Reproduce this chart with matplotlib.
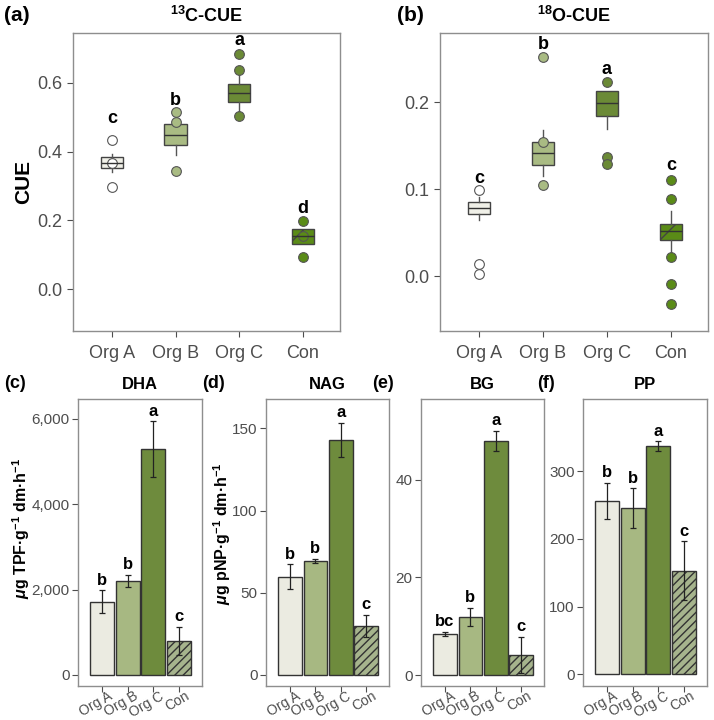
import matplotlib
matplotlib.use("Agg")
import matplotlib.pyplot as plt
import matplotlib.transforms as mtransforms
from matplotlib.ticker import FuncFormatter

plt.rcParams["font.family"] = ["Liberation Sans", "DejaVu Sans"]
plt.rcParams["mathtext.fontset"] = "custom"
plt.rcParams["mathtext.rm"] = "Liberation Sans:bold"
plt.rcParams["mathtext.bf"] = "Liberation Sans:bold"
plt.rcParams["mathtext.it"] = "Liberation Sans:bold:italic"
plt.rcParams["hatch.linewidth"] = 1.0

groups = ["Org A", "Org B", "Org C", "Con"]

# (a) 13C-CUE box stats
c_med = [0.367, 0.449, 0.571, 0.154]
c_q1 = [0.353, 0.418, 0.543, 0.130]
c_q3 = [0.383, 0.481, 0.596, 0.175]
c_lo = [0.341, 0.389, 0.516, 0.130]
c_hi = [0.394, 0.481, 0.625, 0.175]
c_fliers = [[0.433, 0.368, 0.297], [0.515, 0.485, 0.344],
            [0.685, 0.637, 0.503], [0.198, 0.155, 0.093]]
c_letters = ["c", "b", "a", "d"]
c_letter_y = [0.496, 0.550, 0.722, 0.234]

# (b) 18O-CUE box stats
o_med = [0.0791, 0.142, 0.1996, 0.0522]
o_q1 = [0.0718, 0.1286, 0.184, 0.0422]
o_q3 = [0.0852, 0.1547, 0.2134, 0.0599]
o_lo = [0.0653, 0.115, 0.170, 0.0273]
o_hi = [0.0914, 0.168, 0.2134, 0.0752]
o_fliers = [[0.0987, 0.0142, 0.0031], [0.2526, 0.154, 0.1048],
            [0.223, 0.1374, 0.129], [0.1113, 0.089, 0.0223, -0.0084, -0.0322]]
o_letters = ["c", "b", "a", "c"]
o_letter_y = [0.112, 0.267, 0.238, 0.127]

# enzyme activities: mean and error
dha_mean = [1717, 2201, 5285, 803]
dha_err = [265, 145, 650, 330]
dha_letters = ["b", "b", "a", "c"]

nag_mean = [59.8, 69.3, 143.0, 30.0]
nag_err = [7.5, 1.2, 10.5, 6.6]
nag_letters = ["b", "b", "a", "c"]

bg_mean = [8.4, 11.9, 48.0, 4.1]
bg_err = [0.4, 1.8, 2.05, 3.7]
bg_letters = ["bc", "b", "a", "c"]

pp_mean = [256.7, 245.8, 336.8, 153.3]
pp_err = [26.7, 29.0, 7.4, 43.0]
pp_letters = ["b", "b", "a", "c"]

box_colors = ["#f0f0e8", "#a9bb83", "#6b8a36", "#5a8b17"]
bar_colors = ["#ebebe1", "#a7b882", "#6e8b3d", "#a6b48d"]
edge = "#333333"
frame = "#8e8e8e"
tick_col = "#4d4d4d"


def style_axes(ax, fs):
    for s in ax.spines.values():
        s.set_color(frame)
        s.set_linewidth(1.0)
    ax.tick_params(colors=tick_col, labelcolor=tick_col, labelsize=fs,
                   length=4, width=0.8, direction="out")


def plot_box(ax, med, q1, q3, lo, hi, fliers, letters, letter_y, ylim, yticks):
    stats = []
    for i in range(4):
        stats.append({"med": med[i], "q1": q1[i], "q3": q3[i],
                      "whislo": lo[i], "whishi": hi[i], "fliers": fliers[i]})
    art = ax.bxp(stats, positions=[1, 2, 3, 4], widths=0.35, patch_artist=True,
                 showcaps=False,
                 medianprops={"color": edge, "linewidth": 1.0},
                 whiskerprops={"color": "#555555", "linewidth": 1.0})
    for i, b in enumerate(art["boxes"]):
        b.set_facecolor(box_colors[i])
        b.set_edgecolor("#444444")
        b.set_linewidth(1.0)
        if i == 3:
            b.set_hatch("/")
    for i, f in enumerate(art["fliers"]):
        fc = "white" if i == 0 else box_colors[i]
        f.set(marker="o", markerfacecolor=fc, markeredgecolor="#555555",
              markersize=7, markeredgewidth=0.8)
    for i in range(4):
        ax.text(i + 1, letter_y[i], letters[i], ha="center", va="center",
                fontsize=13, fontweight="bold")
    ax.set_xlim(0.39, 4.58)
    ax.set_ylim(*ylim)
    ax.set_yticks(yticks)
    ax.set_yticklabels([f"{t:.1f}" for t in yticks])
    ax.set_xticks([1, 2, 3, 4])
    ax.set_xticklabels(groups)
    style_axes(ax, 13)
    ax.tick_params(axis="x", pad=6)


def plot_bar(ax, mean, err, letters, ylim, yticks, title):
    x = [1, 2, 3, 4]
    bars = ax.bar(x, mean, width=0.94, color=bar_colors, edgecolor=edge,
                  linewidth=1.0)
    bars[3].set_hatch("////")
    ax.errorbar(x, mean, yerr=err, fmt="none", ecolor="#222222",
                elinewidth=0.9, capsize=2.5, capthick=0.9)
    for i in range(4):
        ax.annotate(letters[i], (x[i], mean[i] + err[i]), xytext=(0, 2),
                    textcoords="offset points", ha="center", va="bottom",
                    fontsize=12, fontweight="bold")
    ax.set_xlim(0.05, 4.9)
    ax.set_ylim(*ylim)
    ax.set_yticks(yticks)
    ax.yaxis.set_major_formatter(FuncFormatter(lambda v, p: f"{v:,.0f}"))
    ax.set_xticks(x)
    style_axes(ax, 11)
    ax.tick_params(axis="y", pad=2)
    ax.set_xticklabels(groups, rotation=30, ha="right", va="top",
                       rotation_mode="anchor", fontsize=10)
    ax.tick_params(axis="x", pad=1)
    shift = mtransforms.ScaledTranslation(5.5 / 100, 4 / 100, fig.dpi_scale_trans)
    for t in ax.get_xticklabels():
        t.set_transform(t.get_transform() + shift)
    ax.set_title(title, fontsize=12, fontweight="bold", pad=7)


fig = plt.figure(figsize=(7.14, 7.2), dpi=100)

ax_a = fig.add_axes([0.1022, 0.5403, 0.374, 0.4139])
plot_box(ax_a, c_med, c_q1, c_q3, c_lo, c_hi, c_fliers, c_letters, c_letter_y,
         (-0.122, 0.745), [0.0, 0.2, 0.4, 0.6])
ax_a.set_title(r"$^{13}$C-CUE", fontsize=13, fontweight="bold", pad=8)
ax_a.set_ylabel("CUE", fontsize=15, fontweight="bold", labelpad=3)

ax_b = fig.add_axes([0.6162, 0.5403, 0.3754, 0.4139])
plot_box(ax_b, o_med, o_q1, o_q3, o_lo, o_hi, o_fliers, o_letters, o_letter_y,
         (-0.063, 0.280), [0.0, 0.1, 0.2])
ax_b.set_title(r"$^{18}$O-CUE", fontsize=13, fontweight="bold", pad=8)

ax_c = fig.add_axes([0.1092, 0.0472, 0.1737, 0.3986])
plot_bar(ax_c, dha_mean, dha_err, dha_letters, (-258, 6460),
         [0, 2000, 4000, 6000], "DHA")
ax_c.set_ylabel(r"$\mu$g TPF·g$^{-1}$ dm·h$^{-1}$", fontsize=11.5,
                fontweight="bold")
ax_c.yaxis.set_label_coords(-0.37, 0.55)

ax_d = fig.add_axes([0.3725, 0.0472, 0.1723, 0.3986])
plot_bar(ax_d, nag_mean, nag_err, nag_letters, (-6.7, 167.8),
         [0, 50, 100, 150], "NAG")
ax_d.set_ylabel(r"$\mu$g pNP·g$^{-1}$ dm·h$^{-1}$", fontsize=11.5,
                fontweight="bold")
ax_d.yaxis.set_label_coords(-0.27, 0.53)

ax_e = fig.add_axes([0.5896, 0.0472, 0.1723, 0.3986])
plot_bar(ax_e, bg_mean, bg_err, bg_letters, (-2.25, 56.5), [0, 20, 40], "BG")

ax_f = fig.add_axes([0.8165, 0.0472, 0.1737, 0.3986])
plot_bar(ax_f, pp_mean, pp_err, pp_letters, (-17.4, 406.8),
         [0, 100, 200, 300], "PP")

for lab, x, y in [("(a)", 0.006, 0.979), ("(b)", 0.556, 0.979),
                  ("(c)", 0.006, 0.468), ("(d)", 0.283, 0.468),
                  ("(e)", 0.521, 0.468), ("(f)", 0.752, 0.468)]:
    fig.text(x, y, lab, fontsize=15 if lab in ("(a)", "(b)") else 13,
             fontweight="bold", va="center", ha="left")

fig.savefig("out.png", dpi=100)
